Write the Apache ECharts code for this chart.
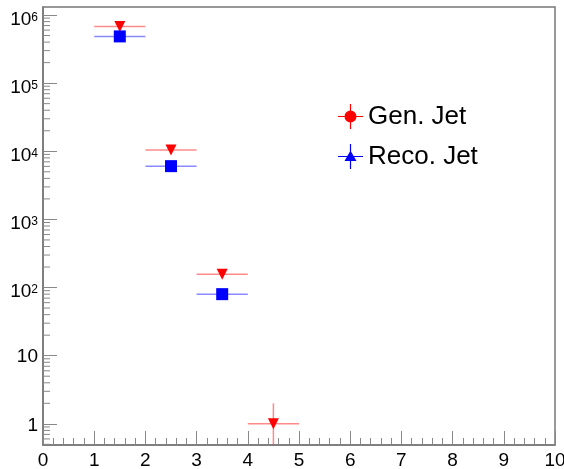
<!DOCTYPE html>
<html><head><meta charset="utf-8">
<script src="https://cdn.jsdelivr.net/npm/echarts@6/dist/echarts.min.js"></script>
<style>html,body{margin:0;padding:0;background:#fff}#c{width:564px;height:469px}</style>
</head><body><div id="c"></div>
<script>
// ---- data ----
const genCenters = [1.5, 2.5, 3.5, 4.5];
const genHalfWidth = [0.5, 0.5, 0.5, 0.5];
const genValues = [6.8e5, 1.04e4, 157, 1];
const genErrors = [825, 102, 12.5, 1];

const recoCenters = [1.5, 2.5, 3.5];
const recoHalfWidth = [0.5, 0.5, 0.5];
const recoValues = [4.85e5, 6.05e3, 80];
const recoErrors = [696, 78, 9];

const xTickLabels = ['0','1','2','3','4','5','6','7','8','9','10'];
const yDecades = [0, 1, 2, 3, 4, 5, 6];
const yMinorMultipliers = [2, 3, 4, 5, 6, 7, 8, 9];
const yMin = 0.489, yMax = 1.31e6;

const FONT = 'Liberation Sans, Arial, Helvetica, sans-serif';
const AXIS_COLOR = '#777';
const TICK_COLOR = '#888';

// minor ticks of the log axis (2..9 x 10^k, plus those below 1)
const yMinorTicks = [];
[-1].concat(yDecades).forEach(k => {
  yMinorMultipliers.forEach(m => {
    const v = m * Math.pow(10, k);
    if (v >= yMin && v <= yMax) yMinorTicks.push(v);
  });
});

function errBar(color) {
  return function (params, api) {
    const x = api.value(0), y = api.value(1), hw = api.value(2), e = api.value(3);
    const l = api.coord([x - hw, y]);
    const r = api.coord([x + hw, y]);
    const lo = (y - e) > yMin ? (y - e) : yMin;
    const pLo = api.coord([x, lo]);
    const pHi = api.coord([x, Math.min(y + e, yMax)]);
    return {
      type: 'group',
      children: [
        { type: 'line', shape: { x1: l[0], y1: l[1], x2: r[0], y2: r[1] }, style: { stroke: color, lineWidth: 1.5 } },
        { type: 'line', shape: { x1: pLo[0], y1: pLo[1], x2: pHi[0], y2: pHi[1] }, style: { stroke: color, lineWidth: 1.5 } }
      ]
    };
  };
}

const genIcon = 'path://M0 11.9L25 11.9L25 13.1L0 13.1Z M11.9 0L13.1 0L13.1 25L11.9 25Z M18.5 12.5A6 6 0 1 1 6.5 12.5A6 6 0 1 1 18.5 12.5Z';
const recoIcon = 'path://M0 11.9L25 11.9L25 13.1L0 13.1Z M11.9 0L13.1 0L13.1 25L11.9 25Z M12.5 6.5L18.5 17L6.5 17Z';

const chart = echarts.init(document.getElementById('c'), null, { renderer: 'canvas' });
chart.setOption({
  animation: false,
  backgroundColor: '#fff',
  grid: {
    left: 43, right: 9, top: 7, bottom: 24,
    containLabel: false, outerBoundsMode: 'none',
    show: true, borderColor: AXIS_COLOR, borderWidth: 1.5, backgroundColor: 'transparent'
  },
  legend: {
    orient: 'vertical', left: 333, top: 98.5,
    itemWidth: 25, itemHeight: 25, itemGap: 14,
    textStyle: { fontFamily: FONT, fontSize: 26, color: '#000' },
    itemStyle: { opacity: 1 },
    data: [{ name: 'Gen. Jet', icon: genIcon }, { name: 'Reco. Jet', icon: recoIcon }],
    selectedMode: false
  },
  xAxis: {
    type: 'value', min: 0, max: 10, interval: 1,
    axisLine: { show: true, onZero: false, lineStyle: { color: AXIS_COLOR, width: 1.5 } },
    axisTick: { show: true, inside: true, length: 14, lineStyle: { color: TICK_COLOR, width: 1 } },
    minorTick: { show: true, splitNumber: 5, length: 7, lineStyle: { color: TICK_COLOR, width: 1 } },
    splitLine: { show: false },
    axisLabel: {
      margin: 6, fontFamily: FONT, fontSize: 19, color: '#000',
      formatter: v => xTickLabels[Math.round(v)] || ''
    }
  },
  yAxis: {
    type: 'log', logBase: 10, min: yMin, max: yMax,
    axisLine: { show: true, onZero: false, lineStyle: { color: AXIS_COLOR, width: 1.5 } },
    axisTick: { show: true, inside: true, length: 14, lineStyle: { color: TICK_COLOR, width: 1 } },
    splitLine: { show: false },
    axisLabel: {
      margin: 5, fontFamily: FONT, fontSize: 19, color: '#000',
      showMinLabel: false, showMaxLabel: false,
      formatter: function (v) {
        const lg = Math.log10(v);
        const e = Math.round(lg);
        if (Math.abs(lg - e) > 1e-6 || yDecades.indexOf(e) < 0) return '';
        if (e === 0) return '{p|1}';
        if (e === 1) return '{p|10}';
        return '{b|10}{s|' + e + '}';
      },
      rich: {
        p: { fontFamily: FONT, fontSize: 19, lineHeight: 19, padding: [3, 0, 0, 0] },
        b: { fontFamily: FONT, fontSize: 19, lineHeight: 19, padding: [9, 0, 0, 0] },
        s: { fontFamily: FONT, fontSize: 12, lineHeight: 12, verticalAlign: 'top', padding: [6, 0, 0, 0] }
      }
    }
  },
  series: [
    {
      name: 'yMinorTicks', type: 'custom', silent: true, clip: false, z: 1,
      data: yMinorTicks.map(v => [0, v]),
      renderItem: function (params, api) {
        const p = api.coord([api.value(0), api.value(1)]);
        return { type: 'line', shape: { x1: p[0], y1: p[1], x2: p[0] + 7, y2: p[1] }, style: { stroke: TICK_COLOR, lineWidth: 1 } };
      }
    },
    {
      name: 'genErr', type: 'custom', silent: true, clip: true, z: 2,
      data: genCenters.map((x, i) => [x, genValues[i], genHalfWidth[i], genErrors[i]]),
      renderItem: errBar('rgba(255,60,60,0.6)')
    },
    {
      name: 'recoErr', type: 'custom', silent: true, clip: true, z: 2,
      data: recoCenters.map((x, i) => [x, recoValues[i], recoHalfWidth[i], recoErrors[i]]),
      renderItem: errBar('rgba(60,60,255,0.6)')
    },
    {
      name: 'Gen. Jet', type: 'scatter', z: 3,
      symbol: 'triangle', symbolRotate: 180, symbolSize: 11,
      itemStyle: { color: '#ff0000', opacity: 1 },
      data: genCenters.map((x, i) => [x, genValues[i]])
    },
    {
      name: 'Reco. Jet', type: 'scatter', z: 3,
      symbol: 'rect', symbolSize: 12,
      itemStyle: { color: '#0000ff', opacity: 1 },
      data: recoCenters.map((x, i) => [x, recoValues[i]])
    }
  ]
});
</script></body></html>
